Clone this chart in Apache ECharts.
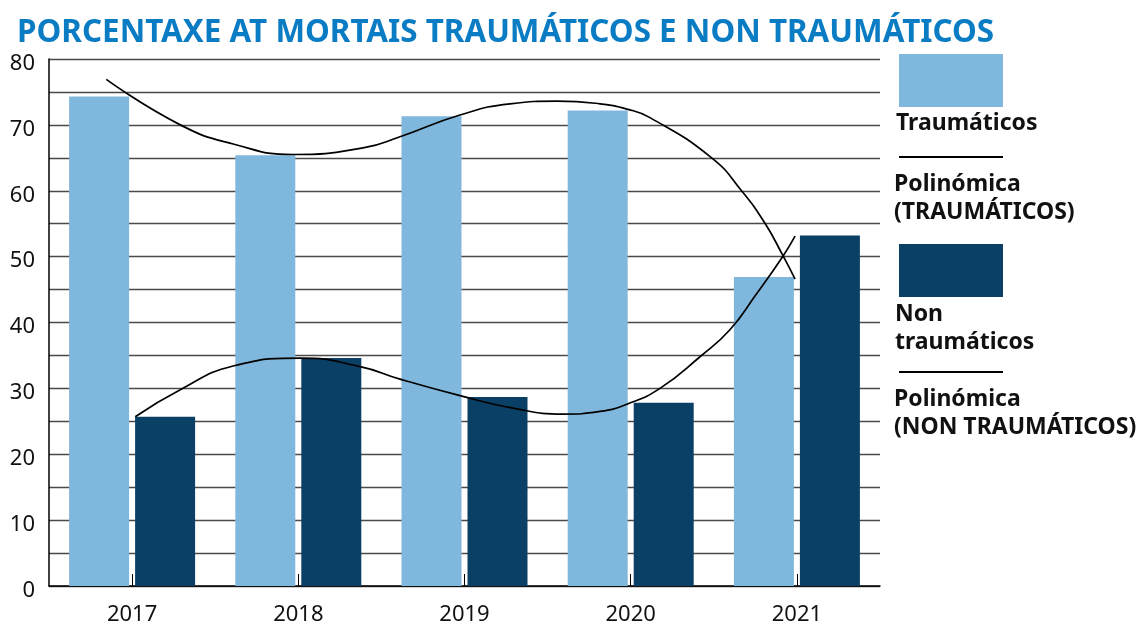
<!DOCTYPE html>
<html>
<head>
<meta charset="utf-8">
<script src="https://cdn.jsdelivr.net/npm/echarts@6/dist/echarts.min.js"></script>
<style>
html,body{margin:0;padding:0;background:#fff;}
#chart{width:1142px;height:627px;}
</style>
</head>
<body>
<div id="chart"></div>
<script>
// ---- data ----
var years = ['2017', '2018', '2019', '2020', '2021'];
var traumaticos = [74.3, 65.4, 71.3, 72.2, 46.9];
var nonTraumaticos = [25.7, 34.6, 28.7, 27.8, 53.2];
// polynomial trend curves: [position in category units (0..5), value]
var trendTraumaticos = [
  [0.345, 76.9], [0.790, 70.0], [1.108, 67.1], [1.469, 65.5], [1.890, 66.5], [2.112, 68.2],
  [2.473, 71.5], [2.774, 73.2], [3.056, 73.6], [3.315, 73.2], [3.477, 72.4], [3.616, 71.1],
  [3.987, 65.0], [4.167, 60.0], [4.307, 55.1], [4.417, 50.1], [4.489, 46.6]
];
var trendNonTraumaticos = [
  [0.519, 25.7], [0.790, 29.8], [1.108, 33.4], [1.511, 34.6], [1.872, 33.3], [2.112, 31.4],
  [2.473, 28.9], [2.792, 27.0], [3.093, 26.1], [3.315, 26.5], [3.477, 27.6], [3.676, 30.0],
  [3.917, 34.8], [4.097, 38.9], [4.253, 44.2], [4.417, 50.1], [4.489, 53.1]
];
var titleText = 'PORCENTAXE AT MORTAIS TRAUMÁTICOS E NON TRAUMÁTICOS';
var legendLabels = ['Traumáticos', 'Polinómica\n(TRAUMÁTICOS)', 'Non\ntraumáticos', 'Polinómica\n(NON TRAUMÁTICOS)'];

var lightBlue = '#80b7dc';
var darkBlue = '#0b4066';
var font = '"Noto Sans", "Open Sans", sans-serif';

var chart = echarts.init(document.getElementById('chart'), null, {renderer: 'canvas'});

var legendFont = 'bold 23px ' + font;
var option = {
  backgroundColor: '#ffffff',
  animation: false,
  title: {
    text: titleText,
    left: 12, top: 13,
    textStyle: {color: '#0a7cc4', fontSize: 31.4, fontWeight: 'bold', fontFamily: font}
  },
  grid: {left: 49, right: 262, top: 59, bottom: 41, containLabel: false},
  xAxis: [{
    type: 'category',
    data: years,
    boundaryGap: true,
    axisLine: {show: true, lineStyle: {color: '#000', width: 1.5}},
    axisTick: {show: true, alignWithLabel: true, inside: true, length: 12, lineStyle: {color: '#000', width: 1}},
    axisLabel: {color: '#111', fontSize: 22, fontFamily: font, margin: 18},
    splitLine: {show: false}
  }, {
    type: 'value', min: 0, max: 5, show: false
  }],
  yAxis: {
    type: 'value', min: 0, max: 80, interval: 5,
    axisLine: {show: true, lineStyle: {color: '#000', width: 1.5}},
    axisTick: {show: false},
    axisLabel: {
      color: '#111', fontSize: 22, fontFamily: font, margin: 14,
      verticalAlign: 'top', lineHeight: 9,
      formatter: function (v) { return v % 10 === 0 ? String(v) : ''; }
    },
    splitLine: {show: true, lineStyle: {color: '#4a4a4a', width: 1.3}}
  },
  series: [{
    name: 'Traumáticos', type: 'bar', xAxisIndex: 0, data: traumaticos,
    barWidth: 60, barGap: '10%', itemStyle: {color: lightBlue}
  }, {
    name: 'Non traumáticos', type: 'bar', xAxisIndex: 0, data: nonTraumaticos,
    barWidth: 60, barGap: '10%', itemStyle: {color: darkBlue}
  }, {
    name: 'Polinómica (TRAUMÁTICOS)', type: 'line', xAxisIndex: 1, data: trendTraumaticos,
    smooth: 0.5, showSymbol: false, z: 5, lineStyle: {color: '#000', width: 1.7}
  }, {
    name: 'Polinómica (NON TRAUMÁTICOS)', type: 'line', xAxisIndex: 1, data: trendNonTraumaticos,
    smooth: 0.5, showSymbol: false, z: 5, lineStyle: {color: '#000', width: 1.7}
  }],
  graphic: [
    {type: 'rect', left: 899, top: 54, shape: {width: 104, height: 53}, style: {fill: lightBlue}},
    {type: 'text', left: 896, top: 112, style: {text: legendLabels[0], fill: '#111', font: legendFont}},
    {type: 'rect', left: 899, top: 156, shape: {width: 104, height: 2}, style: {fill: '#000'}},
    {type: 'text', left: 894, top: 170, style: {text: legendLabels[1], fill: '#111', font: legendFont, lineHeight: 28}},
    {type: 'rect', left: 899, top: 244, shape: {width: 104, height: 53}, style: {fill: darkBlue}},
    {type: 'text', left: 895, top: 300, style: {text: legendLabels[2], fill: '#111', font: legendFont, lineHeight: 28}},
    {type: 'rect', left: 899, top: 371, shape: {width: 104, height: 2}, style: {fill: '#000'}},
    {type: 'text', left: 894, top: 385, style: {text: legendLabels[3], fill: '#111', font: legendFont, lineHeight: 28}}
  ]
};
chart.setOption(option);
</script>
</body>
</html>
